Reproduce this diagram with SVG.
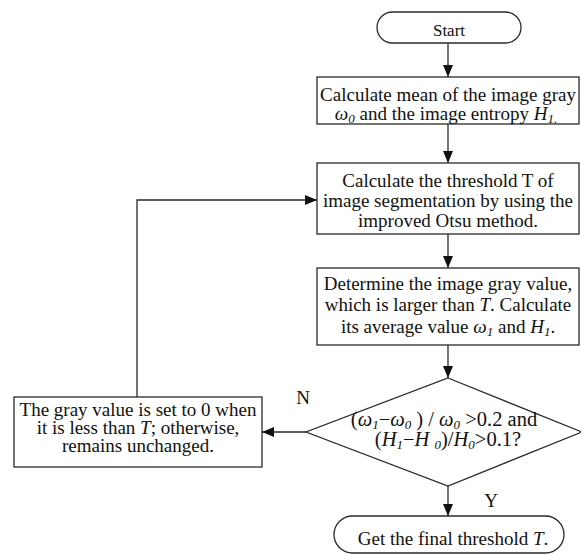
<svg xmlns="http://www.w3.org/2000/svg" width="581" height="555" viewBox="0 0 581 555">
<style>
.s{fill:#fff;stroke:#2a2a2a;stroke-width:1.3}
.c{fill:none;stroke:#2a2a2a;stroke-width:1.3}
text{font-family:"Liberation Serif","Times New Roman",serif;font-size:19px;fill:#111;text-anchor:middle}
.d{font-size:20.5px}
.i{font-style:italic}
.sb{font-size:13px;font-style:italic}
</style>
<defs>
<marker id="a" viewBox="0 0 12 10" refX="12" refY="5" markerWidth="12" markerHeight="10" markerUnits="userSpaceOnUse" orient="auto">
<path d="M0,0L12,5L0,10z" fill="#111"/>
</marker>
</defs>
<g id="connectors">
<line class="c" x1="448" y1="43" x2="448" y2="77" marker-end="url(#a)"/>
<line class="c" x1="448" y1="124" x2="448" y2="163" marker-end="url(#a)"/>
<line class="c" x1="448" y1="234" x2="448" y2="268" marker-end="url(#a)"/>
<line class="c" x1="448" y1="345" x2="448" y2="378" marker-end="url(#a)"/>
<line class="c" x1="448" y1="486" x2="448" y2="516" marker-end="url(#a)"/>
<line class="c" x1="306" y1="432" x2="262" y2="432" marker-end="url(#a)"/>
<polyline class="c" points="137,397 137,200 317,200" marker-end="url(#a)"/>
<text x="303" y="404">N</text>
<text x="491" y="507">Y</text>
</g>
<g id="start">
<rect class="s" x="377" y="12" width="144" height="31" rx="15.5"/>
<text x="449" y="36" style="font-size:17px">Start</text>
</g>
<g id="box1">
<rect class="s" x="317" y="77" width="262" height="47"/>
<text x="448" y="101">Calculate mean of the image gray</text>
<text x="446" y="119.5"><tspan class="i">ω</tspan><tspan class="sb" dy="3">0</tspan><tspan dy="-3"> and the image entropy </tspan><tspan class="i">H</tspan><tspan class="sb" dy="3">1.</tspan></text>
</g>
<g id="box2">
<rect class="s" x="317" y="163" width="262" height="71"/>
<text x="448" y="187">Calculate the threshold T of</text>
<text x="448" y="207">image segmentation by using the</text>
<text x="448" y="227">improved Otsu method.</text>
</g>
<g id="box3">
<rect class="s" x="317" y="268" width="262" height="77"/>
<text x="448" y="290">Determine the image gray value,</text>
<text x="448" y="311">which is larger than <tspan class="i">T</tspan>. Calculate</text>
<text x="448" y="333">its average value <tspan class="i">ω</tspan><tspan class="sb" dy="3">1</tspan><tspan dy="-3"> and </tspan><tspan class="i">H</tspan><tspan class="sb" dy="3">1</tspan><tspan dy="-3">.</tspan></text>
</g>
<g id="decision">
<polygon class="s" points="448,378 582,432 448,486 306,432"/>
<text class="d" x="444" y="426">(<tspan class="i">ω</tspan><tspan class="sb" dy="3">1</tspan><tspan dy="-3">−</tspan><tspan class="i">ω</tspan><tspan class="sb" dy="3">0</tspan><tspan dy="-3"> ) / </tspan><tspan class="i">ω</tspan><tspan class="sb" dy="3">0</tspan><tspan dy="-3"> &gt;0.2 and</tspan></text>
<text class="d" x="448" y="446">(<tspan class="i">H</tspan><tspan class="sb" dy="3">1</tspan><tspan dy="-3">−</tspan><tspan class="i">H </tspan><tspan class="sb" dy="3">0</tspan><tspan dy="-3">)/</tspan><tspan class="i">H</tspan><tspan class="sb" dy="3">0</tspan><tspan dy="-3">&gt;0.1?</tspan></text>
</g>
<g id="reset">
<rect class="s" x="14" y="397" width="248" height="70"/>
<text x="138" y="416">The gray value is set to 0 when</text>
<text x="138" y="434">it is less than <tspan class="i">T</tspan>; otherwise,</text>
<text x="138" y="452">remains unchanged.</text>
</g>
<g id="end">
<rect class="s" x="334" y="516" width="230" height="37" rx="18.5"/>
<text x="453" y="545">Get the final threshold <tspan class="i">T</tspan>.</text>
</g>
</svg>
